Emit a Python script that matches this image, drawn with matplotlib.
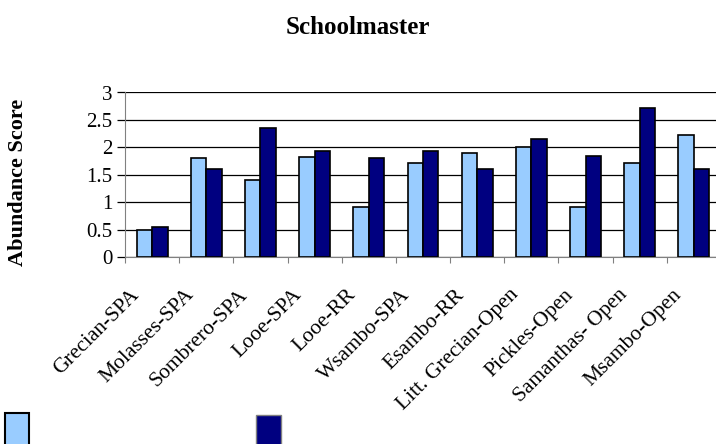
import numpy as np
import matplotlib.pyplot as plt
from matplotlib.patches import Rectangle
from matplotlib.transforms import ScaledTranslation

plt.rcParams['font.family'] = ['Liberation Serif', 'DejaVu Serif']

sites = ["Grecian-SPA", "Molasses-SPA", "Sombrero-SPA", "Looe-SPA", "Looe-RR",
         "Wsambo-SPA", "Esambo-RR", "Litt. Grecian-Open", "Pickles-Open",
         "Samanthas- Open", "Msambo-Open"]
series_a = [0.50, 1.80, 1.40, 1.82, 0.92, 1.72, 1.90, 2.00, 0.92, 1.72, 2.23]
series_b = [0.55, 1.61, 2.35, 1.93, 1.80, 1.93, 1.61, 2.15, 1.85, 2.71, 1.61]
yticks = [0, 0.5, 1, 1.5, 2, 2.5, 3]

light = "#99ccff"
dark = "#000080"

fig = plt.figure(figsize=(7.16, 4.44), dpi=100)
# plot area runs past the right edge of the image, as in the original
ax = fig.add_axes([125 / 716, 1 - 257 / 444, 596 / 716, 164.5 / 444])

x = np.arange(len(sites))
w = 0.286
ax.bar(x + 0.5 - w / 2, series_a, w, color=light, edgecolor="black", linewidth=1.2, zorder=3)
ax.bar(x + 0.5 + w / 2, series_b, w, color=dark, edgecolor="black", linewidth=1.2, zorder=3)

ax.set_xlim(0, len(sites))
ax.set_ylim(0, 3)
ax.set_yticks(yticks)
ax.set_yticklabels([f"{v:g}" for v in yticks], fontsize=15)
ax.yaxis.grid(True, color="black", linewidth=0.9)
ax.set_axisbelow(True)

ax.set_xticks(np.arange(len(sites) + 1))
ax.set_xticklabels([])
ax.set_xticks(x + 0.5, minor=True)
ax.set_xticklabels(sites, minor=True, rotation=45, ha="right",
                   rotation_mode="anchor", fontsize=15.5)
ax.tick_params(axis="x", which="minor", length=0, pad=6)
ax.tick_params(axis="x", which="major", direction="out", length=4, width=0.8, color="gray")
ax.tick_params(axis="y", direction="out", length=6, width=0.9, pad=3)

# push the slanted names down-left, like the original
shift = ScaledTranslation(-0.22, -0.20, fig.dpi_scale_trans)
for lbl in ax.get_xticklabels(minor=True):
    lbl.set_transform(lbl.get_transform() + shift)

for s in ["top", "right"]:
    ax.spines[s].set_visible(False)
ax.spines["left"].set_color("gray")
ax.spines["bottom"].set_color("gray")

ax.set_ylabel("Abundance Score", fontsize=16, fontweight="bold")
ax.yaxis.set_label_coords(-97 / 596, 0.456)

fig.text(0.5, 1 - 27 / 444, "Schoolmaster", ha="center", va="center",
         fontsize=18, fontweight="bold")

# legend keys without labels, cut off at the bottom edge
fig.add_artist(Rectangle((5 / 716, -2 / 444), 24 / 716, 33 / 444, transform=fig.transFigure,
                         facecolor=light, edgecolor="black", linewidth=1.5))
fig.add_artist(Rectangle((256 / 716, -2 / 444), 25 / 716, 31 / 444, transform=fig.transFigure,
                         facecolor=dark, edgecolor="gray", linewidth=1.0))

fig.savefig("out.png", dpi=100)
